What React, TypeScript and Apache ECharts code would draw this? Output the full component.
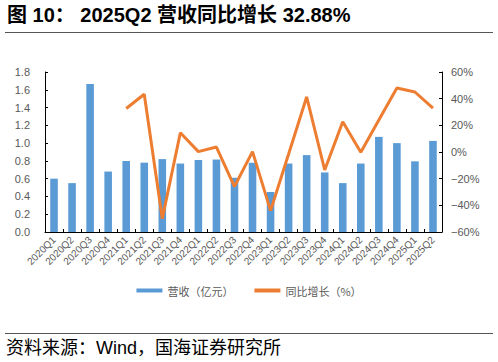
import React, { useEffect, useRef } from "react";
import * as echarts from "echarts";

const categories = [
  "2020Q1", "2020Q2", "2020Q3", "2020Q4",
  "2021Q1", "2021Q2", "2021Q3", "2021Q4",
  "2022Q1", "2022Q2", "2022Q3", "2022Q4",
  "2023Q1", "2023Q2", "2023Q3", "2023Q4",
  "2024Q1", "2024Q2", "2024Q3", "2024Q4",
  "2025Q1", "2025Q2",
];

const revenue = [
  0.60, 0.55, 1.665, 0.68,
  0.80, 0.78, 0.82, 0.77,
  0.81, 0.815, 0.61, 0.78,
  0.45, 0.77, 0.865, 0.67,
  0.55, 0.77, 1.07, 1.0,
  0.795, 1.025,
];

const yoy: (number | null)[] = [
  null, null, null, null,
  32.6, 43.3, -50.0, 14.4,
  0.3, 3.7, -25.9, 0.3,
  -44.0, -1.5, 41.3, -13.5,
  22.7, -0.2, 24.0, 48.0,
  45.0, 32.88,
];

const leftTicks = { min: 0, max: 1.8, interval: 0.2 };
const rightTicks = { min: -60, max: 60, interval: 20 };

const titleText = "图 10： 2025Q2 营收同比增长 32.88%";
const sourceText = "资料来源：Wind，国海证券研究所";
const seriesNames = ["营收（亿元）", "同比增长（%）"];

export default function App() {
  const ref = useRef<HTMLDivElement>(null);
  useEffect(() => {
    if (!ref.current) return;
    const chart = echarts.init(ref.current, null, { renderer: "svg" });
    const axisColor = "#000000";
    const labelColor = "#595959";
    chart.setOption({
      animation: false,
      backgroundColor: "#ffffff",
      grid: { left: 45, right: 56, top: 72, bottom: 130, containLabel: false },
      graphic: [
        {
          type: "text",
          left: 7,
          top: 5,
          style: {
            text: titleText,
            font: 'bold 20px "Liberation Sans", "Noto Sans CJK SC", sans-serif',
            fill: "#000000",
          },
        },
        {
          type: "line",
          shape: { x1: 5, y1: 32.5, x2: 493, y2: 32.5 },
          style: { stroke: "#555555", lineWidth: 1 },
        },
        {
          type: "line",
          shape: { x1: 5, y1: 333.5, x2: 493, y2: 333.5 },
          style: { stroke: "#555555", lineWidth: 1 },
        },
        {
          type: "text",
          left: 6,
          top: 339,
          style: {
            text: sourceText,
            font: '18px "Liberation Sans", "Noto Sans CJK SC", sans-serif',
            fill: "#000000",
          },
        },
      ],
      legend: {
        top: 280,
        left: "center",
        itemGap: 21,
        itemWidth: 26,
        itemHeight: 4,
        data: [
          { name: seriesNames[0], icon: "rect" },
          { name: seriesNames[1], icon: "rect" },
        ],
        textStyle: {
          color: labelColor,
          fontSize: 11,
          fontFamily: '"Noto Sans CJK SC", sans-serif',
        },
      },
      xAxis: {
        type: "category",
        data: categories,
        boundaryGap: true,
        axisLine: { lineStyle: { color: axisColor, width: 1 } },
        axisTick: { show: true, inside: true, length: 3, lineStyle: { color: axisColor } },
        axisLabel: {
          rotate: 45,
          interval: 0,
          margin: 6,
          fontSize: 10,
          color: labelColor,
          fontFamily: '"Liberation Sans", sans-serif',
        },
      },
      yAxis: [
        {
          type: "value",
          min: leftTicks.min,
          max: leftTicks.max,
          interval: leftTicks.interval,
          splitLine: { show: false },
          axisLine: { show: true, lineStyle: { color: axisColor, width: 1 } },
          axisTick: { show: true, inside: true, length: 3, lineStyle: { color: axisColor } },
          axisLabel: {
            margin: 15,
            fontSize: 11,
            color: labelColor,
            fontFamily: '"Liberation Sans", sans-serif',
            formatter: (v: number) => v.toFixed(1),
          },
        },
        {
          type: "value",
          min: rightTicks.min,
          max: rightTicks.max,
          interval: rightTicks.interval,
          splitLine: { show: false },
          axisLine: { show: true, lineStyle: { color: axisColor, width: 1 } },
          axisTick: { show: true, inside: true, length: 3, lineStyle: { color: axisColor } },
          axisLabel: {
            margin: 9,
            fontSize: 11,
            color: labelColor,
            fontFamily: '"Liberation Sans", sans-serif',
            formatter: (v: number) => (v < 0 ? "−" + Math.abs(v) : String(v)) + "%",
          },
        },
      ],
      series: [
        {
          name: seriesNames[0],
          type: "bar",
          data: revenue,
          yAxisIndex: 0,
          barWidth: "42%",
          itemStyle: { color: "#5B9BD5" },
        },
        {
          name: seriesNames[1],
          type: "line",
          data: yoy,
          yAxisIndex: 1,
          symbol: "none",
          lineStyle: { color: "#ED7D31", width: 3 },
          itemStyle: { color: "#ED7D31" },
          connectNulls: false,
        },
      ],
    });
    return () => chart.dispose();
  }, []);
  return <div ref={ref} style={{ width: 498, height: 362, position: "absolute", left: 0, top: 0 }} />;
}
